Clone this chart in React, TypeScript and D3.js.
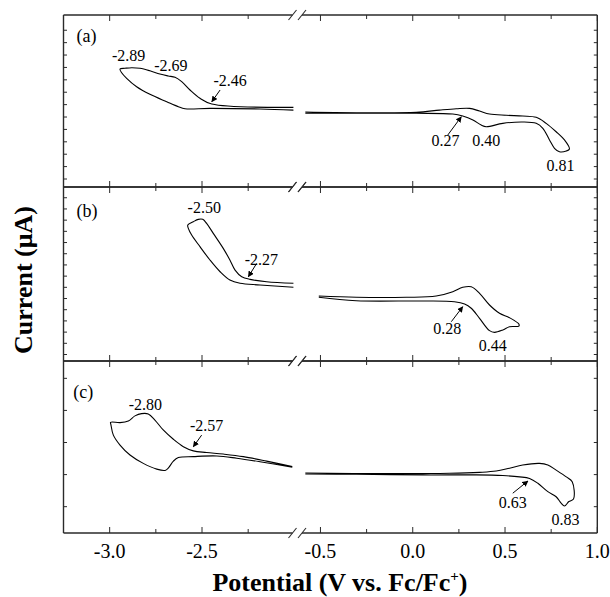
import React from 'react';
import * as d3 from 'd3';

// ---------- data (V vs. Fc/Fc+, current in arbitrary µA units per panel) ----------
const xMajorLeft = [-3.0, -2.5];
const xMinorLeft = [-2.75, -2.25];
const xMajorRight = [-0.5, 0.0, 0.5, 1.0];
const xMinorRight = [-0.25, 0.25, 0.75];
const xTickLabelsLeft = ['-3.0', '-2.5'];
const xTickLabelsRight = ['-0.5', '0.0', '0.5', '1.0'];

const aYTicks = [-6, -5, -4, -3, -2, -1, 0, 1, 2, 3, 4, 5, 6];
const bYTicks = [-7, -6, -5, -4, -3, -2, -1, 0, 1, 2, 3, 4, 5, 6, 7];
const cYTicks = [-1, 0, 1, 2, 3];

// panel (a)
const aLeftV = [-2.005, -2.447, -2.511, -2.565, -2.61, -2.646, -2.683, -2.728, -2.782, -2.836, -2.881, -2.917, -2.944, -2.935, -2.908, -2.854, -2.782, -2.691, -2.628, -2.592, -2.457, -2.186, -2.005];
const aLeftI = [-0.22, 0.05, 0.51, 1.18, 1.85, 2.2, 2.31, 2.47, 2.73, 2.93, 2.98, 2.93, 2.87, 2.57, 2.12, 1.44, 0.83, 0.23, -0.17, -0.33, -0.3, -0.35, -0.44];
const aRightV = [-0.582, -0.306, 0.019, 0.145, 0.236, 0.308, 0.362, 0.416, 0.507, 0.596, 0.669, 0.723, 0.777, 0.822, 0.849, 0.832, 0.795, 0.768, 0.741, 0.705, 0.669, 0.596, 0.488, 0.398, 0.371, 0.326, 0.271, 0.217, 0.019, -0.306, -0.582];
const aRightI = [-0.6, -0.65, -0.62, -0.44, -0.33, -0.3, -0.52, -0.76, -0.86, -0.92, -1.02, -1.51, -2.19, -2.85, -3.58, -3.74, -3.8, -3.52, -2.85, -1.91, -1.51, -1.4, -1.51, -1.78, -1.65, -1.24, -0.92, -0.76, -0.7, -0.7, -0.7];

// panel (b)
const bLeftV = [-2.005, -2.15, -2.24, -2.285, -2.321, -2.349, -2.385, -2.439, -2.475, -2.496, -2.52, -2.547, -2.577, -2.574, -2.556, -2.511, -2.457, -2.402, -2.349, -2.294, -2.186, -2.005];
const bLeftI = [-0.64, -0.5, -0.29, -0.05, 0.54, 1.44, 2.48, 3.82, 4.71, 5.07, 5.07, 4.86, 4.56, 4.27, 3.67, 2.63, 1.44, 0.39, -0.35, -0.64, -0.79, -1.0];
const bRightV = [-0.509, -0.306, -0.035, 0.127, 0.217, 0.271, 0.317, 0.362, 0.416, 0.47, 0.524, 0.575, 0.575, 0.524, 0.488, 0.443, 0.416, 0.362, 0.317, 0.281, 0.226, 0.055, -0.306, -0.509];
const bRightI = [-1.78, -1.89, -1.89, -1.78, -1.39, -1.0, -0.95, -1.54, -2.58, -3.32, -3.71, -4.28, -4.46, -4.52, -4.81, -5.02, -4.87, -3.77, -2.87, -2.49, -2.29, -2.22, -2.2, -1.89];

// panel (c)
const cLeftV = [-2.011, -2.15, -2.276, -2.385, -2.475, -2.547, -2.601, -2.655, -2.71, -2.755, -2.791, -2.827, -2.863, -2.899, -2.944, -2.995, -2.993, -2.98, -2.944, -2.89, -2.818, -2.745, -2.7, -2.683, -2.655, -2.628, -2.547, -2.42, -2.312, -2.186, -2.011];
const cLeftI = [0.25, 0.42, 0.56, 0.64, 0.69, 0.74, 0.87, 1.1, 1.39, 1.7, 1.89, 1.9, 1.83, 1.67, 1.62, 1.63, 1.55, 1.23, 0.92, 0.61, 0.35, 0.17, 0.13, 0.2, 0.42, 0.53, 0.56, 0.58, 0.51, 0.4, 0.23];
const cRightV = [-0.582, -0.126, 0.199, 0.362, 0.452, 0.524, 0.596, 0.687, 0.732, 0.777, 0.832, 0.864, 0.871, 0.846, 0.822, 0.804, 0.777, 0.732, 0.678, 0.633, 0.579, 0.488, 0.344, 0.055, -0.306, -0.582];
const cRightI = [0.05, 0.03, 0.04, 0.07, 0.11, 0.2, 0.3, 0.35, 0.3, 0.14, -0.07, -0.22, -0.76, -0.84, -0.98, -0.89, -0.69, -0.53, -0.27, -0.12, -0.07, -0.03, -0.01, -0.01, 0.01, 0.02];

// peak annotations: [text, V, I, side]
const aNotes: [string, number, number, string][] = [
  ['-2.89', -2.897, 3.52, 'L'], ['-2.69', -2.669, 2.71, 'L'], ['-2.46', -2.348, 1.5, 'L'],
  ['0.27', 0.178, -3.34, 'R'], ['0.40', 0.398, -3.34, 'R'], ['0.81', 0.8, -5.35, 'R'],
];
const bNotes: [string, number, number, string][] = [
  ['-2.50', -2.488, 5.63, 'L'], ['-2.27', -2.179, 0.99, 'L'],
  ['0.28', 0.187, -5.17, 'R'], ['0.44', 0.434, -6.69, 'R'],
];
const cNotes: [string, number, number, string][] = [
  ['-2.80', -2.807, 2.01, 'L'], ['-2.57', -2.475, 1.36, 'L'],
  ['0.63', 0.542, -1.04, 'R'], ['0.83', 0.828, -1.57, 'R'],
];
// arrows: [V0, I0, V1, I1, side]
const aArrows: [number, number, number, number, string][] = [
  [-2.402, 1.18, -2.447, 0.23, 'L'], [0.19, -2.45, 0.263, -0.98, 'R'],
];
const bArrows: [number, number, number, number, string][] = [
  [-2.204, 1.14, -2.249, -0.05, 'L'], [0.209, -4.07, 0.271, -2.73, 'R'],
];
const cArrows: [number, number, number, number, string][] = [
  [-2.502, 1.23, -2.547, 0.87, 'L'], [0.542, -0.58, 0.624, -0.2, 'R'],
];

// ---------- layout ----------
const W = 610, H = 597;
const X0 = 63.5, XB1 = 292.5, XB2 = 302, X1 = 597.3;
const xL = d3.scaleLinear().domain([-3.25, -2.01]).range([X0, XB1]);
const xR = d3.scaleLinear().domain([-0.6, 1.0]).range([XB2, X1]);
const FONT = 'Liberation Serif, Times New Roman, Times, serif';

const panels = [
  { label: '(a)', top: 15, bottom: 187, domain: [-6.645, 7.23], yTicks: aYTicks, lbl: [-3.179, 5.05],
    left: [aLeftV, aLeftI], right: [aRightV, aRightI], notes: aNotes, arrows: aArrows },
  { label: '(b)', top: 187, bottom: 361, domain: [-7.58, 7.96], yTicks: bYTicks, lbl: [-3.179, 5.28],
    left: [bLeftV, bLeftI], right: [bRightV, bRightI], notes: bNotes, arrows: bArrows },
  { label: '(c)', top: 361, bottom: 533, domain: [-1.82, 3.54], yTicks: cYTicks, lbl: [-3.197, 2.39],
    left: [cLeftV, cLeftI], right: [cRightV, cRightI], notes: cNotes, arrows: cArrows },
];

const FRAME = '#2a2a2a';

function Panel({ p }: { p: typeof panels[number] }) {
  const y = d3.scaleLinear().domain(p.domain).range([p.bottom, p.top]);
  const mk = (xs: d3.ScaleLinear<number, number>, vs: number[], is: number[]) =>
    d3.line<number>().x((_, k) => xs(vs[k])).y((_, k) => y(is[k])).curve(d3.curveCatmullRom.alpha(0.5))(vs) || '';
  const els: React.ReactNode[] = [];
  [p.top, p.bottom].forEach((yy, k) => {
    els.push(<line key={'fl' + k} x1={X0} x2={XB1} y1={yy} y2={yy} stroke={FRAME} strokeWidth={1.4} />);
    els.push(<line key={'fr' + k} x1={XB2} x2={X1} y1={yy} y2={yy} stroke={FRAME} strokeWidth={1.4} />);
  });
  els.push(<line key="vl" x1={X0} x2={X0} y1={p.top} y2={p.bottom} stroke={FRAME} strokeWidth={1.4} />);
  els.push(<line key="vr" x1={X1} x2={X1} y1={p.top} y2={p.bottom} stroke={FRAME} strokeWidth={1.4} />);
  const xt: [any, number, number][] = [
    ...xMajorLeft.map(v => [xL, v, 6] as [any, number, number]),
    ...xMinorLeft.map(v => [xL, v, 4] as [any, number, number]),
    ...xMajorRight.map(v => [xR, v, 6] as [any, number, number]),
    ...xMinorRight.map(v => [xR, v, 4] as [any, number, number]),
  ];
  xt.forEach(([s, v, len], k) => {
    const xx = s(v);
    els.push(<line key={'xtb' + k} x1={xx} x2={xx} y1={p.bottom} y2={p.bottom - len} stroke={FRAME} strokeWidth={1} />);
    els.push(<line key={'xtt' + k} x1={xx} x2={xx} y1={p.top} y2={p.top + len} stroke={FRAME} strokeWidth={1} />);
  });
  p.yTicks.forEach((t, k) => {
    const yy = y(t);
    els.push(<line key={'ytl' + k} x1={X0} x2={X0 + 3.5} y1={yy} y2={yy} stroke={FRAME} strokeWidth={1} />);
    els.push(<line key={'ytr' + k} x1={X1} x2={X1 - 3.5} y1={yy} y2={yy} stroke={FRAME} strokeWidth={1} />);
  });
  [p.top, p.bottom].forEach((yy, k) => {
    [XB1, XB2].forEach((xx, j) => {
      els.push(<line key={'br' + k + j} x1={xx - 4} y1={yy + 5} x2={xx + 4} y2={yy - 5} stroke={FRAME} strokeWidth={1.1} />);
    });
  });
  els.push(<path key="cl" d={mk(xL, p.left[0], p.left[1])} fill="none" stroke="#000" strokeWidth={1.1} />);
  els.push(<path key="cr" d={mk(xR, p.right[0], p.right[1])} fill="none" stroke="#000" strokeWidth={1.1} />);
  els.push(<text key="lbl" x={xL(p.lbl[0])} y={y(p.lbl[1])} style={{ fontFamily: FONT, fontSize: 18 }}>{p.label}</text>);
  p.notes.forEach(([t, v, i, side], k) => {
    const s = side === 'L' ? xL : xR;
    els.push(<text key={'n' + k} x={s(v)} y={y(i)} textAnchor="middle" style={{ fontFamily: FONT, fontSize: 16 }}>{t}</text>);
  });
  p.arrows.forEach(([v0, i0, v1, i1, side], k) => {
    const s = side === 'L' ? xL : xR;
    els.push(<line key={'a' + k} x1={s(v0)} y1={y(i0)} x2={s(v1)} y2={y(i1)} stroke="#000" strokeWidth={1} markerEnd="url(#ah)" />);
  });
  return <g>{els}</g>;
}

export default function App() {
  return (
    <svg width={W} height={H} style={{ position: 'absolute', left: 0, top: 0, background: '#fff' }}>
      <defs>
        <marker id="ah" viewBox="0 0 10 10" refX={9} refY={5} markerWidth={6} markerHeight={6} orient="auto" markerUnits="userSpaceOnUse">
          <path d="M0,0 L10,5 L0,10 z" fill="#000" />
        </marker>
      </defs>
      <rect x={0} y={0} width={W} height={H} fill="#fff" />
      {panels.map((p, k) => <Panel key={k} p={p} />)}
      {xMajorLeft.map((v, k) => (
        <text key={'xl' + k} x={xL(v)} y={558} textAnchor="middle" style={{ fontFamily: FONT, fontSize: 20 }}>{xTickLabelsLeft[k]}</text>
      ))}
      {xMajorRight.map((v, k) => (
        <text key={'xr' + k} x={xR(v)} y={558} textAnchor="middle" style={{ fontFamily: FONT, fontSize: 20 }}>{xTickLabelsRight[k]}</text>
      ))}
      <text x={340} y={591} textAnchor="middle" style={{ fontFamily: FONT, fontSize: 26, fontWeight: 'bold' }}>
        Potential (V vs. Fc/Fc<tspan dy={-10} style={{ fontSize: 15 }}>+</tspan><tspan dy={10}>)</tspan>
      </text>
      <text transform="translate(32,280) rotate(-90)" textAnchor="middle" style={{ fontFamily: FONT, fontSize: 26, fontWeight: 'bold' }}>
        Current (μA)
      </text>
    </svg>
  );
}
